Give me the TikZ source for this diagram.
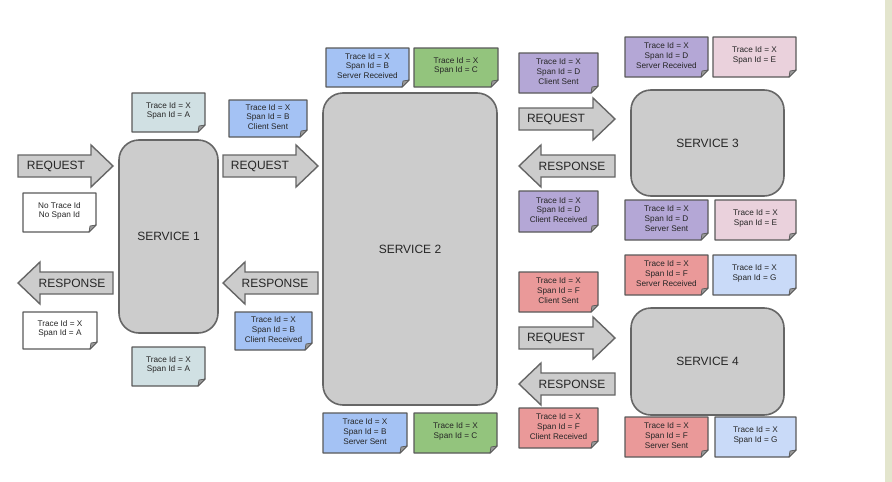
\documentclass[tikz,border=0pt]{standalone}
\usepackage{fontspec}
\setmainfont{Liberation Sans}

\definecolor{svcfill}{HTML}{CCCCCC}
\definecolor{svcline}{HTML}{666666}
\definecolor{noteline}{HTML}{5A5A5A}
\definecolor{foldgray}{HTML}{9A9A9A}
\definecolor{spanA}{HTML}{D0E0E3}
\definecolor{spanB}{HTML}{A4C2F4}
\definecolor{spanC}{HTML}{93C47D}
\definecolor{spanD}{HTML}{B4A7D6}
\definecolor{spanE}{HTML}{EAD1DC}
\definecolor{spanF}{HTML}{EA9999}
\definecolor{spanG}{HTML}{C9DAF8}
\definecolor{strip}{HTML}{E3E5CD}

% dog-eared note: name, x1, y1, x2, y2, fill, text
\newcommand\tnote[7]{%
  \draw[notebox, fill=#6] (#2,#3) -- (#4,#3) -- (#4,#5-7) -- (#4-7,#5) -- (#2,#5) -- cycle;
  \filldraw[notefold] (#4,#5-7) -- (#4-7,#5) -- (#4-6,#5-6) -- cycle;
  \node[notetext] (#1) at ({(#2+#4)/2},{(#3+#5)/2-1.5}) {#7};
}
% block arrow pointing right: tail x, tip x, centre y
\newcommand\rightflow[3]{%
  \draw[flow] (#1,#3-11) -- (#2-22,#3-11) -- (#2-22,#3-21) -- (#2,#3)
    -- (#2-22,#3+21) -- (#2-22,#3+11) -- (#1,#3+11) -- cycle;
}
% block arrow pointing left: tip x, tail x, centre y
\newcommand\leftflow[3]{%
  \draw[flow] (#1,#3) -- (#1+22,#3-21) -- (#1+22,#3-11) -- (#2,#3-11)
    -- (#2,#3+11) -- (#1+22,#3+11) -- (#1+22,#3+21) -- cycle;
}

\begin{document}
\begin{tikzpicture}[x=1pt,y=-1pt,
  svc/.style={draw=svcline, fill=svcfill, line width=1.6pt, rounded corners=20pt,
    font=\fontsize{12}{14}\selectfont, text=black!85},
  flow/.style={draw=svcline, fill=svcfill, line width=1.4pt, line join=miter},
  flowtext/.style={font=\fontsize{12}{14}\selectfont, text=black!85, inner sep=0},
  notebox/.style={draw=noteline, line width=1.3pt, line join=round},
  notefold/.style={draw=noteline, fill=foldgray, line width=0.7pt, line join=round},
  notetext/.style={font=\fontsize{8.2}{9.7}\selectfont, align=center, inner sep=0, text=black!85}]

% canvas
\fill[white] (0,0) rectangle (892,482);
\fill[strip] (885,0) rectangle (892,482);

% services
\node[svc, minimum width=99pt, minimum height=193pt] (s1) at (168.5,236.5) {SERVICE 1};
\node[svc, minimum width=174pt, minimum height=312pt] (s2) at (410,249) {SERVICE 2};
\node[svc, minimum width=153pt, minimum height=106pt] (s3) at (707.5,143) {SERVICE 3};
\node[svc, minimum width=153pt, minimum height=107pt] (s4) at (707.5,361.5) {SERVICE 4};

% request / response flows
\rightflow{18}{113}{166}
\node[flowtext] (req1) at (56,166) {REQUEST};
\rightflow{223}{318}{166}
\node[flowtext] (req2) at (260,166) {REQUEST};
\leftflow{18}{113}{283}
\node[flowtext] (res1) at (72,283) {RESPONSE};
\leftflow{223}{318}{283}
\node[flowtext] (res2) at (275,283) {RESPONSE};

\rightflow{519}{615}{119}
\node[flowtext] (req3) at (556,119) {REQUEST};
\leftflow{519}{615}{166}
\node[flowtext] (res3) at (572,166) {RESPONSE};
\rightflow{519}{615}{338}
\node[flowtext] (req4) at (556,338) {REQUEST};
\leftflow{519}{615}{384}
\node[flowtext] (res4) at (572,384) {RESPONSE};

% span notes around service 1
\tnote{nA1}{132}{93}{205}{132}{spanA}{Trace Id = X\\Span Id = A}
\tnote{nB1}{229}{100}{307}{137}{spanB}{Trace Id = X\\Span Id = B\\Client Sent}
\tnote{nNone}{23}{193}{96}{232}{white}{No Trace Id\\No Span Id}
\tnote{nOut}{23}{312}{97}{349}{white}{Trace Id = X\\Span Id = A}
\tnote{nA2}{132}{347}{205}{386}{spanA}{Trace Id = X\\Span Id = A}
\tnote{nB2}{235}{312}{312}{350}{spanB}{Trace Id = X\\Span Id = B\\Client Received}

% span notes around service 2
\tnote{nB3}{326}{48}{409}{87}{spanB}{Trace Id = X\\Span Id = B\\Server Received}
\tnote{nC1}{414}{48}{498}{87}{spanC}{Trace Id = X\\Span Id = C}
\tnote{nB4}{323}{413}{407}{453}{spanB}{Trace Id = X\\Span Id = B\\Server Sent}
\tnote{nC2}{414}{413}{497}{453}{spanC}{Trace Id = X\\Span Id = C}

% span notes around service 3
\tnote{nD1}{519}{53}{598}{93}{spanD}{Trace Id = X\\Span Id = D\\Client Sent}
\tnote{nD2}{625}{37}{708}{77}{spanD}{Trace Id = X\\Span Id = D\\Server Received}
\tnote{nE1}{713}{37}{796}{77}{spanE}{Trace Id = X\\Span Id = E}
\tnote{nD3}{519}{191}{598}{232}{spanD}{Trace Id = X\\Span Id = D\\Client Received}
\tnote{nD4}{625}{200}{708}{240}{spanD}{Trace Id = X\\Span Id = D\\Server Sent}
\tnote{nE2}{715}{200}{796}{240}{spanE}{Trace Id = X\\Span Id = E}

% span notes around service 4
\tnote{nF1}{519}{272}{598}{312}{spanF}{Trace Id = X\\Span Id = F\\Client Sent}
\tnote{nF2}{625}{255}{708}{295}{spanF}{Trace Id = X\\Span Id = F\\Server Received}
\tnote{nG1}{713}{255}{796}{295}{spanG}{Trace Id = X\\Span Id = G}
\tnote{nF3}{519}{408}{598}{448}{spanF}{Trace Id = X\\Span Id = F\\Client Received}
\tnote{nF4}{625}{417}{708}{457}{spanF}{Trace Id = X\\Span Id = F\\Server Sent}
\tnote{nG2}{715}{417}{796}{457}{spanG}{Trace Id = X\\Span Id = G}

\end{tikzpicture}
\end{document}
